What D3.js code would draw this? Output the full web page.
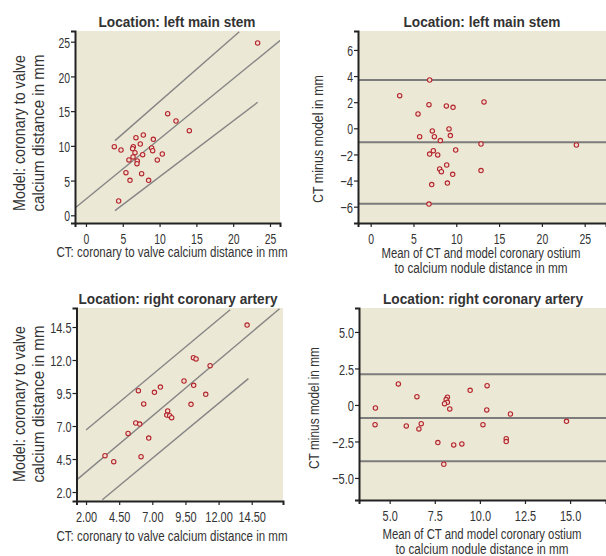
<!DOCTYPE html>
<html>
<head>
<meta charset="utf-8">
<script src="https://cdn.jsdelivr.net/npm/d3@7"></script>
<style>
  body { margin: 0; background: #fff; }
  svg text { font-family: 'Liberation Sans', Arial, sans-serif; fill: #333; }
</style>
</head>
<body>
<svg width="606" height="556"></svg>
<script>
/* data */

// top left: model vs CT, left main stem
let lmsCT    = [23.32, 11.10, 12.23, 14.04, 7.79, 6.79, 9.15, 7.38, 3.85, 6.43, 6.34, 8.92, 4.76, 9.06,
                6.66, 6.39, 7.70, 10.37, 5.84, 6.97, 6.93, 9.69, 5.43, 7.56, 5.98, 8.51, 4.44];
let lmsModel = [24.81, 14.64, 13.58, 12.19, 11.56, 11.18, 10.94, 10.27, 9.88, 9.88, 9.60, 9.69, 9.40, 9.31,
                9.02, 8.40, 8.73, 8.83, 7.97, 7.82, 7.44, 7.97, 6.14, 6.00, 5.04, 5.04, 2.06];
let lmsFitX = [-1.4, 26.4],  lmsFitY = [1.12, 25.2];
let lmsUpX  = [3.94, 20.83], lmsUpY  = [10.75, 26.44];
let lmsLoX  = [3.94, 23.32], lmsLoY  = [0.67, 16.27];

// top right: Bland-Altman, left main stem
let lmsMean = [6.89, 3.39, 13.24, 6.81, 8.84, 9.62, 5.53, 9.15, 7.20, 9.31, 5.72, 7.44, 8.14, 12.89,
               24.03, 9.93, 7.32, 6.89, 7.83, 8.88, 8.06, 8.26, 9.58, 12.89, 7.13, 8.96, 6.81];
let lmsDiff = [3.70, 2.50, 2.02, 1.81, 1.71, 1.61, 1.10, -0.05, -0.20, -0.56, -0.64, -0.64, -0.94, -1.20,
               -1.28, -1.66, -1.71, -1.97, -2.04, -2.81, -3.11, -3.32, -3.52, -3.24, -4.31, -4.19, -5.80];
let lmsLimits = [3.70, -1.07, -5.78];

// bottom left: model vs CT, right coronary artery
let rcaCT    = [14.15, 10.10, 10.30, 11.36, 9.39, 10.12, 7.61, 5.95, 7.16, 11.03, 6.35, 9.92,
                8.16, 8.09, 8.31, 8.46, 5.75, 6.05, 5.17, 6.73, 3.43, 4.09, 6.15];
let rcaModel = [14.65, 12.18, 12.08, 11.57, 10.41, 10.08, 9.95, 9.68, 9.55, 9.40, 8.67, 8.64,
                8.14, 7.83, 7.78, 7.63, 7.23, 7.15, 6.44, 6.09, 4.75, 4.30, 4.68];
let rcaFitX = [1.25, 16.6],  rcaFitY = [2.88, 15.89];
let rcaUpX  = [2.0, 12.87],  rcaUpY  = [6.70, 15.81];
let rcaLoX  = [3.23, 14.25], rcaLoY  = [1.42, 10.59];

// bottom right: Bland-Altman, right coronary artery
let rcaMean = [5.48, 10.40, 9.46, 6.51, 8.20, 8.13, 8.20, 8.04, 4.21, 8.33, 10.38, 11.69, 14.80, 4.19,
               6.75, 10.17, 5.92, 6.62, 11.46, 11.46, 7.67, 9.00, 8.55, 8.00];
let rcaDiff = [1.44, 1.32, 1.00, 0.57, 0.53, 0.37, 0.18, 0.09, -0.21, -0.27, -0.34, -0.62, -1.12, -1.35,
               -1.28, -1.35, -1.44, -1.64, -2.31, -2.51, -2.58, -2.67, -2.74, -4.06];
let rcaLimits = [2.10, -0.89, -3.86];

// ticks
let ticks25 = [0, 5, 10, 15, 20, 25];
let ticksDiffL = [-6, -4, -2, 0, 2, 4, 6];
let ticksRcaX = [2.0, 4.5, 7.0, 9.5, 12.0, 14.5];
let ticksRcaY = [2.0, 4.5, 7.0, 9.5, 12.0, 14.5];
let ticksMeanR = [5.0, 7.5, 10.0, 12.5, 15.0];
let ticksDiffR = [-5.0, -2.5, 0, 2.5, 5.0];

const svg = d3.select('svg');
const bg = '#ece8d6';
const dotColor = '#b3262c';

// no condensed face installed, so squeeze the text to the widths in the picture
function squeeze(sel, w) {
    sel.attr('textLength', w).attr('lengthAdjust', 'spacingAndGlyphs');
}
function tickWidth(s, dw) {
    let w = 0;
    for (let c of s) w += (c === '.') ? 2.7 : (c === '\u2212') ? 7 : dw;
    return w;
}

/* one panel, returns scales */
function panel(opt) {
    let g = svg.append('g');
    let x = d3.scaleLinear().domain(opt.xd).range([opt.l, opt.r]);
    let y = d3.scaleLinear().domain(opt.yd).range([opt.b, opt.t]);

    g.append('rect')
        .attr('x', opt.l).attr('y', opt.t)
        .attr('width', opt.r - opt.l).attr('height', opt.b - opt.t)
        .attr('fill', bg);

    let clipId = 'clip' + opt.id;
    svg.append('clipPath').attr('id', clipId)
        .append('rect')
        .attr('x', opt.l).attr('y', opt.t)
        .attr('width', opt.r - opt.l).attr('height', opt.b - opt.t);

    let inner = g.append('g').attr('clip-path', 'url(#' + clipId + ')');

    // axes
    let xa = g.append('g').attr('transform', 'translate(0,' + opt.b + ')')
        .call(d3.axisBottom(x).tickValues(opt.xt).tickFormat(opt.xf).tickSizeOuter(0).tickSize(4));
    let ya = g.append('g').attr('transform', 'translate(' + opt.l + ',0)')
        .call(d3.axisLeft(y).tickValues(opt.yt).tickFormat(opt.yf).tickSizeOuter(0).tickSize(4));
    [xa, ya].forEach(a => {
        a.select('.domain').attr('stroke', '#222').attr('stroke-width', 2);
        a.selectAll('.tick line').attr('stroke', '#222').attr('stroke-width', 1.2);
        a.selectAll('.tick text').attr('font-size', 15.5).attr('fill', '#333')
            .style('font-family', "'Liberation Sans', Arial, sans-serif")
            .each(function() {
                let t = d3.select(this);
                squeeze(t, tickWidth(t.text(), opt.dw));
            });
    });
    xa.selectAll('.tick text').attr('dy', '0.9em');
    ya.selectAll('.tick text').attr('x', -5).attr('dy', '0.36em');

    // title
    squeeze(svg.append('text')
        .attr('x', opt.titleX).attr('y', opt.titleY)
        .attr('text-anchor', 'middle')
        .attr('font-size', 15.5).attr('font-weight', 'bold').attr('fill', '#222')
        .text(opt.title), opt.titleW);

    // x label
    opt.xl.forEach((s, i) => {
        squeeze(svg.append('text')
            .attr('x', opt.xlX).attr('y', opt.xlY + i * 15)
            .attr('text-anchor', 'middle').attr('font-size', 14)
            .text(s), opt.xlW[i]);
    });
    // y label
    opt.yl.forEach((s, i) => {
        squeeze(svg.append('text')
            .attr('transform', 'translate(' + (opt.ylX + i * 18.5) + ',' + opt.ylY + ') rotate(-90)')
            .attr('text-anchor', 'middle').attr('font-size', opt.ylSize)
            .text(s), opt.ylW[i]);
    });

    return {x: x, y: y, g: inner};
}

function dots(p, xs, ys) {
    p.g.selectAll('circle.pt')
        .data(xs.map((v, i) => [v, ys[i]]))
        .enter().append('circle')
        .attr('class', 'pt')
        .attr('cx', d => p.x(d[0]))
        .attr('cy', d => p.y(d[1]))
        .attr('r', 2.2)
        .attr('fill', '#f1ddd0')
        .attr('stroke', dotColor)
        .attr('stroke-width', 1.1);
}

function fitLine(p, xs, ys) {
    let line = d3.line().x(d => p.x(d[0])).y(d => p.y(d[1]));
    p.g.append('path')
        .datum(xs.map((v, i) => [v, ys[i]]))
        .attr('d', line)
        .attr('fill', 'none')
        .attr('stroke', '#858585')
        .attr('stroke-width', 1.4);
}

function hLines(p, vals) {
    p.g.selectAll('line.lim')
        .data(vals)
        .enter().append('line')
        .attr('class', 'lim')
        .attr('x1', p.x.range()[0]).attr('x2', p.x.range()[1])
        .attr('y1', d => p.y(d)).attr('y2', d => p.y(d))
        .attr('stroke', '#7c7c7c')
        .attr('stroke-width', 2);
}

const minus = s => s.replace('-', '\u2212');

/* top left */
let p1 = panel({
    id: 1, l: 75, r: 280, t: 31, b: 223, dw: 5.8,
    xd: [-1.49, 26.36], yd: [-1.11, 26.54],
    xt: ticks25, yt: ticks25, xf: d3.format('d'), yf: d3.format('d'),
    title: 'Location: left main stem', titleX: 177, titleY: 27, titleW: 157,
    xl: ['CT: coronary to valve calcium distance in mm'], xlX: 172, xlY: 257, xlW: [231],
    yl: ['Model: coronary to valve', 'calcium distance in mm'], ylX: 25, ylY: 133, ylSize: 17, ylW: [156, 157]
});
fitLine(p1, lmsFitX, lmsFitY);
fitLine(p1, lmsUpX, lmsUpY);
fitLine(p1, lmsLoX, lmsLoY);
dots(p1, lmsCT, lmsModel);

/* top right */
let p2 = panel({
    id: 2, l: 358, r: 606, t: 31, b: 223, dw: 5.8,
    xd: [-1.48, 27.49], yd: [-7.25, 7.45],
    xt: ticks25, yt: ticksDiffL, xf: d3.format('d'), yf: d => minus(d3.format('d')(d)),
    title: 'Location: left main stem', titleX: 482, titleY: 27, titleW: 157,
    xl: ['Mean of CT and model coronary ostium', 'to calcium nodule distance in mm'], xlX: 481, xlY: 258, xlW: [199, 173],
    yl: ['CT minus model in mm'], ylX: 323, ylY: 139, ylSize: 14, ylW: [128]
});
hLines(p2, lmsLimits);
dots(p2, lmsMean, lmsDiff);

/* bottom left */
let p3 = panel({
    id: 3, l: 76.5, r: 283, t: 308, b: 501, dw: 6.2,
    xd: [1.28, 16.86], yd: [1.32, 15.94],
    xt: ticksRcaX, yt: ticksRcaY, xf: d3.format('.2f'), yf: d3.format('.1f'),
    title: 'Location: right coronary artery', titleX: 178, titleY: 304, titleW: 199,
    xl: ['CT: coronary to valve calcium distance in mm'], xlX: 172, xlY: 541, xlW: [231],
    yl: ['Model: coronary to valve', 'calcium distance in mm'], ylX: 25, ylY: 404, ylSize: 17, ylW: [156, 157]
});
fitLine(p3, rcaFitX, rcaFitY);
fitLine(p3, rcaUpX, rcaUpY);
fitLine(p3, rcaLoX, rcaLoY);
dots(p3, rcaCT, rcaModel);

/* bottom right */
let p4 = panel({
    id: 4, l: 359, r: 606, t: 308, b: 500, dw: 6.2,
    xd: [3.30, 16.99], yd: [-6.51, 6.64],
    xt: ticksMeanR, yt: ticksDiffR, xf: d3.format('.1f'),
    yf: d => d === 0 ? '0' : minus(d3.format('.1f')(d)),
    title: 'Location: right coronary artery', titleX: 483, titleY: 304, titleW: 200,
    xl: ['Mean of CT and model coronary ostium', 'to calcium nodule distance in mm'], xlX: 482, xlY: 539, xlW: [199, 173],
    yl: ['CT minus model in mm'], ylX: 319, ylY: 408, ylSize: 14, ylW: [122]
});
hLines(p4, rcaLimits);
dots(p4, rcaMean, rcaDiff);
</script>
</body>
</html>
